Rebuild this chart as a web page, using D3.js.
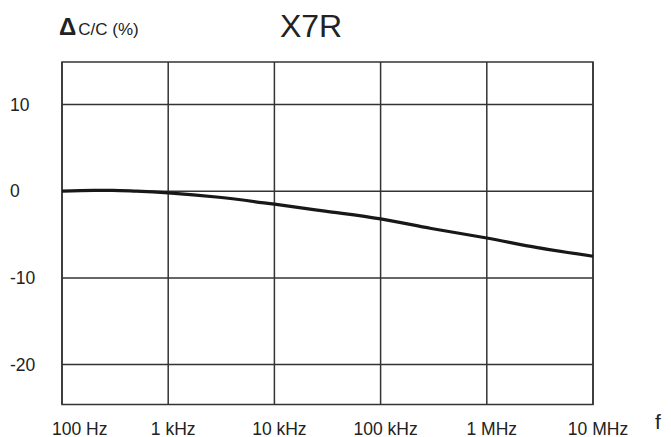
<!DOCTYPE html>
<html>
<head>
<meta charset="utf-8">
<script src="https://cdn.jsdelivr.net/npm/d3@7"></script>
<style>
  body { margin: 0; background: #fff; }
  text { font-family: "Liberation Sans", Arial, sans-serif; fill: #222; }
</style>
</head>
<body>
<div id="chart"></div>
<script>
var svgWidth = 671;
var svgHeight = 437;

// data
var freqs = [100, 200, 300, 500, 1e3, 3e3, 1e4, 3e4, 1e5, 3e5, 1e6, 3e6, 1e7];
var dcc   = [0, 0.1, 0.1, 0, -0.2, -0.7, -1.5, -2.3, -3.2, -4.3, -5.4, -6.5, -7.5];
var xTicks = [100, 1e3, 1e4, 1e5, 1e6, 1e7];
var xTickLabels = ["100 Hz", "1 kHz", "10 kHz", "100 kHz", "1 MHz", "10 MHz"];
var yTicks = [10, 0, -10, -20];

var margin = { top: 62, right: 78, bottom: 32.5, left: 62 };
var width = svgWidth - margin.left - margin.right;
var height = svgHeight - margin.top - margin.bottom;

var svg = d3.select("#chart")
  .append("svg")
  .attr("width", svgWidth)
  .attr("height", svgHeight);

var chartGroup = svg.append("g")
  .attr("transform", `translate(${margin.left},${margin.top})`);

var xScale = d3.scaleLog()
  .domain([100, 1e7])
  .range([0, width]);

var yScale = d3.scaleLinear()
  .domain([-24.6, 14.9])
  .range([height, 0]);

// grid
chartGroup.append("g")
  .selectAll("line")
  .data(xTicks)
  .enter()
  .append("line")
  .attr("x1", d => xScale(d))
  .attr("x2", d => xScale(d))
  .attr("y1", 0)
  .attr("y2", height)
  .attr("stroke", "#333")
  .attr("stroke-width", 1.5);

chartGroup.append("g")
  .selectAll("line")
  .data(yTicks)
  .enter()
  .append("line")
  .attr("x1", 0)
  .attr("x2", width)
  .attr("y1", d => yScale(d))
  .attr("y2", d => yScale(d))
  .attr("stroke", "#333")
  .attr("stroke-width", 1.5);

chartGroup.append("rect")
  .attr("width", width)
  .attr("height", height)
  .attr("fill", "none")
  .attr("stroke", "#333")
  .attr("stroke-width", 1.5);

// tick labels
chartGroup.append("g")
  .selectAll("text")
  .data(yTicks)
  .enter()
  .append("text")
  .attr("x", 10 - margin.left)
  .attr("y", d => yScale(d))
  .attr("dy", "0.35em")
  .attr("font-size", "17.5px")
  .text(d => d);

chartGroup.append("g")
  .selectAll("text")
  .data(xTicks)
  .enter()
  .append("text")
  .attr("x", (d, i) => xScale(d) + (i === 0 ? -10 : 5))
  .attr("y", height + 30)
  .attr("text-anchor", (d, i) => i === 0 ? "start" : "middle")
  .attr("font-size", "17.5px")
  .text((d, i) => xTickLabels[i]);

// curve
var line = d3.line()
  .x(d => xScale(d[0]))
  .y(d => yScale(d[1]))
  .curve(d3.curveMonotoneX);

chartGroup.append("path")
  .datum(freqs.map((f, i) => [f, dcc[i]]))
  .attr("d", line)
  .attr("fill", "none")
  .attr("stroke", "#1a1718")
  .attr("stroke-width", 3.2);

// titles
var yLabel = svg.append("text")
  .attr("x", 59)
  .attr("y", 35);
yLabel.append("tspan")
  .attr("font-size", "24px")
  .attr("font-weight", "bold")
  .text("\u0394");
yLabel.append("tspan")
  .attr("dx", 2)
  .attr("font-size", "17px")
  .text("C/C (%)");

svg.append("text")
  .attr("x", 311)
  .attr("y", 37)
  .attr("text-anchor", "middle")
  .attr("font-size", "32px")
  .text("X7R");

svg.append("text")
  .attr("x", 655)
  .attr("y", 429)
  .attr("font-size", "21px")
  .text("f");
</script>
</body>
</html>
